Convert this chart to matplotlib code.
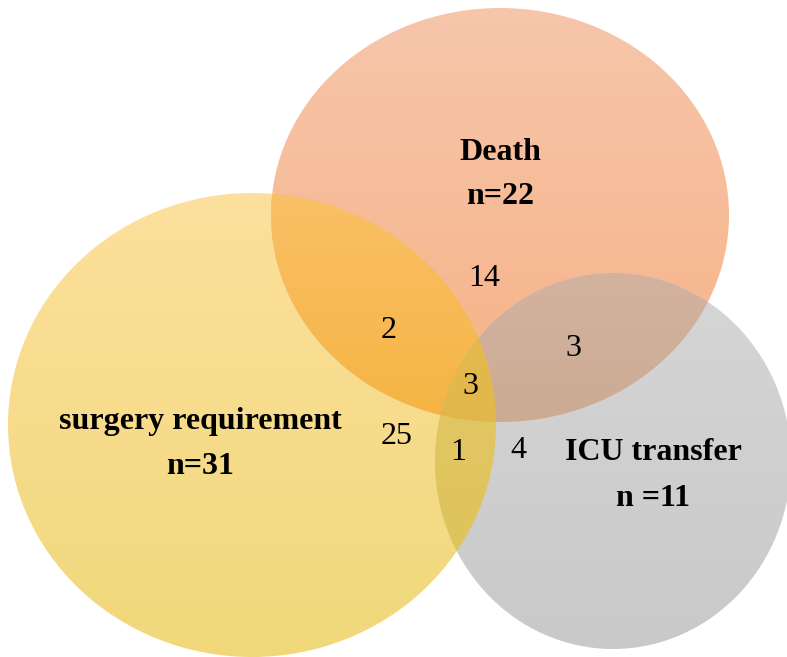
import numpy as np
import matplotlib
matplotlib.use("Agg")
import matplotlib.pyplot as plt
from matplotlib.patches import Ellipse, Polygon
from matplotlib.colors import to_rgb

# ---- data ----
set_names = ["surgery requirement", "Death", "ICU transfer"]
set_totals = ["n=31", "n=22", "n =11"]
# region counts as labelled in the figure
region_labels = ["25", "14", "2", "3", "3", "1", "4"]

# ---- layout (pixel coordinates) ----
W, H = 787, 657
ellipses = {
    "S": dict(c=(252, 425), w=488, h=464),
    "D": dict(c=(500, 215), w=458, h=414),
    "I": dict(c=(613, 461), w=356, h=376),
}
# gradient colours (top, bottom) per region
region_colors = {
    "S": ("#FDE09D", "#F0D87A"),
    "D": ("#F7C6AB", "#F6B286"),
    "I": ("#D6D6D6", "#C9C9C9"),
    "SD": ("#FAC066", "#F5B443"),
    "DI": ("#D3B3A0", "#CCAB93"),
    "SI": ("#E4C766", "#DEC45C"),
    "SDI": ("#E4BA4E", "#E1B64A"),
}

fig = plt.figure(figsize=(W / 100, H / 100), dpi=100)
ax = fig.add_axes([0, 0, 1, 1])
ax.set_xlim(0, W)
ax.set_ylim(H, 0)
ax.axis("off")


def boundary(key, n=720):
    e = ellipses[key]
    t = np.linspace(0, 2 * np.pi, n, endpoint=False)
    return np.column_stack([e["c"][0] + e["w"] / 2 * np.cos(t),
                            e["c"][1] + e["h"] / 2 * np.sin(t)])


def inside(key, pts):
    e = ellipses[key]
    return ((pts[:, 0] - e["c"][0]) / (e["w"] / 2)) ** 2 + \
           ((pts[:, 1] - e["c"][1]) / (e["h"] / 2)) ** 2 <= 1.0 + 1e-9


def intersection_poly(keys):
    pts = []
    for k in keys:
        b = boundary(k, 2000)
        mask = np.ones(len(b), bool)
        for o in keys:
            if o != k:
                mask &= inside(o, b)
        pts.append(b[mask])
    pts = np.vstack(pts)
    c = pts.mean(axis=0)
    ang = np.arctan2(pts[:, 1] - c[1], pts[:, 0] - c[0])
    return pts[np.argsort(ang)]


def gradient_fill(patch, key, z):
    ax.add_patch(patch)
    patch.set_facecolor("none")
    patch.set_edgecolor("none")
    top, bot = region_colors[key]
    ext = patch.get_path().transformed(patch.get_patch_transform()).get_extents()
    n = 256
    tt = np.linspace(0, 1, n)[:, None]
    a, b = np.array(to_rgb(top)), np.array(to_rgb(bot))
    img = (a[None, :] * (1 - tt) + b[None, :] * tt)[:, None, :]
    im = ax.imshow(img, extent=(ext.x0, ext.x1, ext.y1, ext.y0), aspect="auto",
                   interpolation="bilinear", zorder=z)
    im.set_clip_path(patch)


for z, k in enumerate(["S", "D", "I"]):
    e = ellipses[k]
    gradient_fill(Ellipse(e["c"], e["w"], e["h"]), k, 1 + z)

for k in ["SD", "DI", "SI"]:
    gradient_fill(Polygon(intersection_poly(list(k)), closed=True), k, 5)

gradient_fill(Polygon(intersection_poly(["S", "D", "I"]), closed=True), "SDI", 6)

serif = ["Liberation Serif", "DejaVu Serif"]
fs = 23
label_pos = [(200, 421, 200, 467), (500, 152, 500, 197), (653, 452, 653, 498)]
for name, tot, (x1, y1, x2, y2) in zip(set_names, set_totals, label_pos):
    ax.text(x1, y1, name, ha="center", va="center", fontsize=fs,
            fontweight="bold", family=serif, zorder=10)
    ax.text(x2, y2, tot, ha="center", va="center", fontsize=fs,
            fontweight="bold", family=serif, zorder=10)

count_pos = [(397, 437), (484, 278), (389, 331), (573, 349), (470, 386), (458, 453), (518, 450)]
for lab, (x, y) in zip(region_labels, count_pos):
    ax.text(x, y, lab, ha="center", va="center", fontsize=fs, family=serif, zorder=10)

fig.savefig("out.png", dpi=100)
